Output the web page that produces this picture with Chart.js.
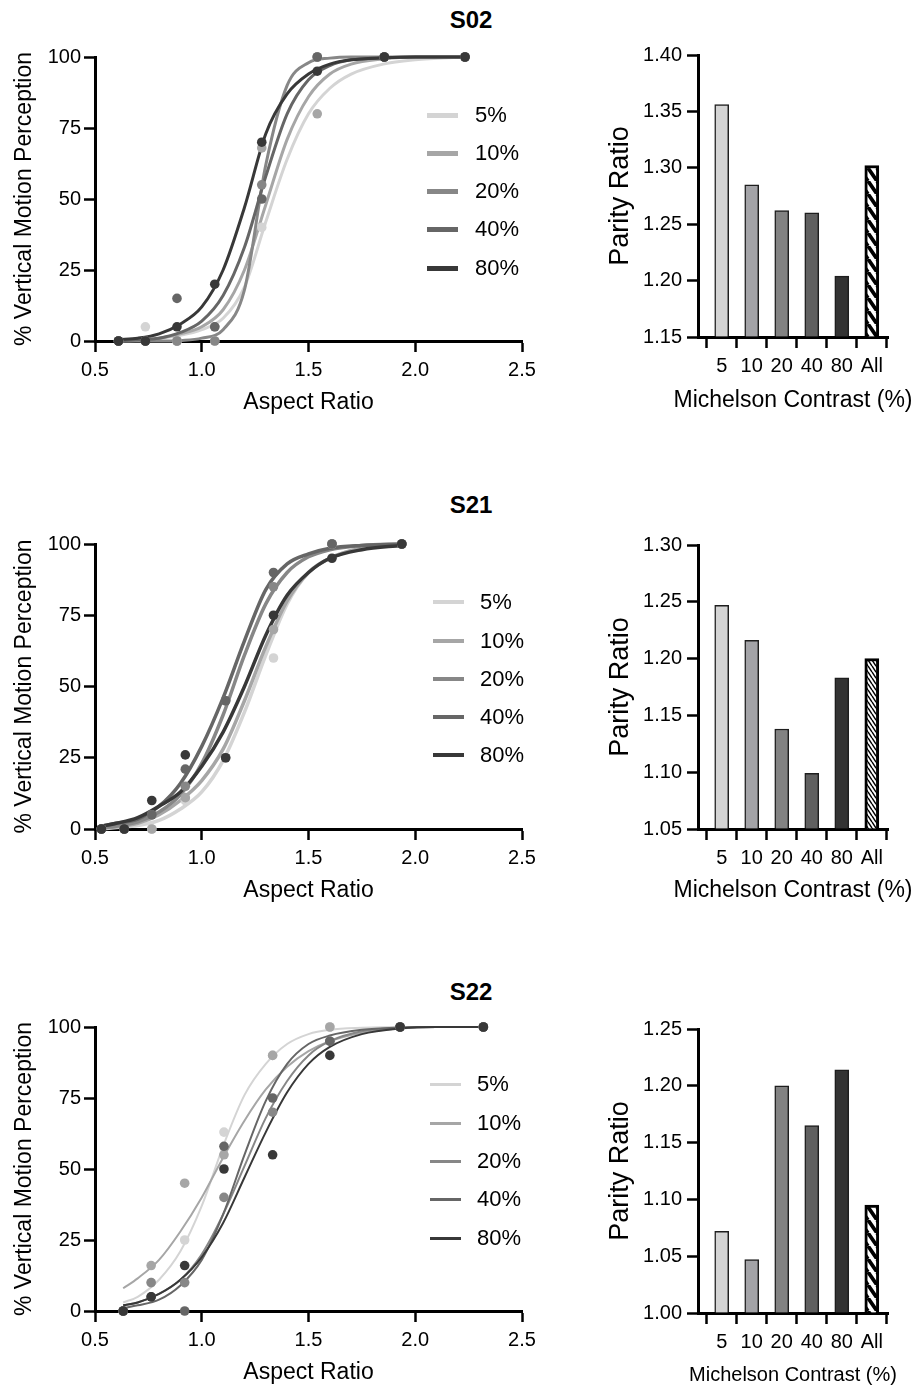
<!DOCTYPE html>
<html lang="en">
<head>
<meta charset="UTF-8" />
<title>Parity Ratio by Michelson Contrast</title>
<script src="https://cdn.jsdelivr.net/npm/chart.js@4.4.0/dist/chart.umd.min.js"></script>
<style>
  html, body { margin: 0; background: #fff; overflow: hidden; }
  body { font-family: "Liberation Sans", Arial, sans-serif; color: #000; }
  #page { position: relative; width: 915px; height: 1387px; }
  canvas { position: absolute; }
  .title { position: absolute; width: 100px; margin-left: -50px; text-align: center;
           font-weight: bold; font-size: 24px; line-height: 28px; }
  .swatch { position: absolute; width: 31px; }
  .ktxt { position: absolute; font-size: 22px; line-height: 26px; white-space: nowrap; }
</style>
</head>
<body>
<div id="page">
  <div class="title" style="left:471px; top:6px;">S02</div>
  <div class="title" style="left:471px; top:491px;">S21</div>
  <div class="title" style="left:471px; top:978px;">S22</div>

  <canvas id="curveS02" width="545" height="381" style="left:0; top:40px;"></canvas>
  <canvas id="curveS21" width="545" height="382" style="left:0; top:527px;"></canvas>
  <canvas id="curveS22" width="545" height="381" style="left:0; top:1010px;"></canvas>

  <canvas id="barS02" width="335" height="379" style="left:580px; top:38px;"></canvas>
  <canvas id="barS21" width="335" height="381" style="left:580px; top:528px;"></canvas>
  <canvas id="barS22" width="335" height="381" style="left:580px; top:1012px;"></canvas>
</div>

<script>
// ---- data ----
const contrastLabels = ["5%", "10%", "20%", "40%", "80%"];
const contrastColors = ["#d4d4d4", "#a6a6a6", "#878787", "#666666", "#383838"];
const barLabels = ["5", "10", "20", "40", "80", "All"];
const barColors = ["#d4d4d4", "#a3a3a7", "#828282", "#606060", "#333333"];

// S02 measured points (rows: 5,10,20,40,80 %)
const s02PtsX = [0.61, 0.736, 0.884, 1.061, 1.281, 1.541, 1.855, 2.233];
const s02Pts = [
  [0, 5, 0, 0, 40, 100, 100, 100],
  [0, 0, 0, 5, 68, 80, 100, 100],
  [0, 0, 0, 0, 55, 100, 100, 100],
  [0, 0, 15, 5, 50, 100, 100, 100],
  [0, 0, 5, 20, 70, 95, 100, 100]
];
// S02 fitted curves
const s02FitX = [0.61, 0.7, 0.8, 0.9, 1.0, 1.1, 1.2, 1.3, 1.4, 1.5, 1.6, 1.7, 1.85, 2.0, 2.233];
const s02Fit = [
  [0, 0.5, 1, 2, 4, 8, 19, 42, 64, 80, 89, 94, 97.5, 99, 100],
  [0, 0.3, 1, 2.5, 5, 11, 25, 48, 71, 86, 94, 97.5, 99.3, 100, 100],
  [0, 0, 0, 0.2, 1, 4, 18, 62, 90, 98, 99.6, 100, 100, 100, 100],
  [0, 0.5, 1, 3, 7, 16, 33, 58, 80, 92, 97, 99, 99.7, 100, 100],
  [0.5, 1, 2.5, 6, 12, 25, 47, 73, 87, 94, 97.5, 99, 99.7, 100, 100]
];

// S21
const s21PtsX = [0.53, 0.637, 0.766, 0.923, 1.112, 1.336, 1.61, 1.937];
const s21Pts = [
  [0, 0, 0, 10, 25, 60, 100, 100],
  [0, 0, 0, 11, 25, 70, 100, 100],
  [0, 0, 5, 15, 45, 85, 100, 100],
  [0, 0, 5, 21, 45, 90, 100, 100],
  [0, 0, 10, 26, 25, 75, 95, 100]
];
const s21FitX = [0.53, 0.6, 0.7, 0.8, 0.9, 1.0, 1.1, 1.2, 1.3, 1.4, 1.5, 1.6, 1.75, 1.937];
const s21Fit = [
  [0, 0.5, 1.2, 3, 7, 13, 24, 41, 61, 79, 90, 95, 98.5, 99.7],
  [0.3, 0.8, 2, 5, 10, 17, 28, 45, 64, 80, 90, 95, 98.5, 99.7],
  [0.5, 1, 2.5, 6, 12, 23, 40, 61, 79, 90, 95.5, 98, 99.5, 100],
  [1, 2, 3.5, 8, 16, 29, 46, 66, 84, 93, 96.5, 98.5, 99.5, 100],
  [1, 2, 4, 8, 13, 22, 34, 50, 68, 82, 90, 95, 98, 99.5]
];

// S22
const s22PtsX = [0.632, 0.763, 0.92, 1.104, 1.332, 1.60, 1.929, 2.319];
const s22Pts = [
  [0, 10, 25, 63, 90, 100, 100, 100],
  [0, 16, 45, 55, 90, 100, 100, 100],
  [0, 10, 10, 40, 70, 95, 100, 100],
  [0, 5, 0, 58, 75, 95, 100, 100],
  [0, 5, 16, 50, 55, 90, 100, 100]
];
const s22FitX = [0.632, 0.7, 0.8, 0.9, 1.0, 1.1, 1.2, 1.3, 1.4, 1.5, 1.6, 1.75, 1.929, 2.1, 2.319];
const s22Fit = [
  [3, 5, 11, 21, 37, 58, 76, 87, 94, 97.5, 99, 99.7, 100, 100, 100],
  [8, 11.5, 18, 28, 40, 54, 67, 78, 86, 91.5, 95, 98, 99.5, 100, 100],
  [2, 3, 6, 11, 20, 34, 51, 68, 81, 90, 95, 98.5, 99.7, 100, 100],
  [1, 2, 4, 9, 18, 34, 55, 74, 87, 94, 97, 99, 99.8, 100, 100],
  [2, 3, 6, 11, 19, 31, 47, 63, 77, 87, 93, 97.5, 99.5, 100, 100]
];

// parity ratios (5, 10, 20, 40, 80, All)
const s02Parity = [1.356, 1.285, 1.262, 1.260, 1.204, 1.302];
const s21Parity = [1.247, 1.216, 1.138, 1.099, 1.183, 1.200];
const s22Parity = [1.072, 1.047, 1.200, 1.165, 1.214, 1.095];

// ---- drawing ----
Chart.defaults.font.family = '"Liberation Sans", Arial, sans-serif';
Chart.defaults.color = "#000";

const axisGrid = { drawOnChartArea: false, drawTicks: true, tickLength: 11, tickWidth: 2.5, tickColor: "#000" };
const axisBorder = { color: "#000", width: 3 };

// x title that may run wider than the plot (Chart.js would squeeze it)
const wideXTitle = {
  id: "wideXTitle",
  afterDraw(chart, args, opts) {
    if (!opts.text) return;
    const ctx = chart.ctx;
    const area = chart.chartArea;
    ctx.save();
    ctx.font = opts.size + 'px "Liberation Sans", Arial, sans-serif';
    ctx.fillStyle = "#000";
    ctx.textAlign = "center";
    ctx.textBaseline = "middle";
    ctx.fillText(opts.text, (area.left + area.right) / 2, area.bottom + opts.offset);
    ctx.restore();
  }
};

function curveChart(id, ptsX, pts, fitX, fit, lineW) {
  const datasets = [];
  // darkest points on top, then curves underneath
  for (let i = 4; i >= 0; i--) {
    datasets.push({
      data: ptsX.map((x, j) => ({ x: x, y: pts[i][j] })),
      showLine: false,
      pointRadius: 4.8,
      pointBackgroundColor: contrastColors[i],
      pointBorderColor: contrastColors[i],
      pointBorderWidth: 0,
      clip: false
    });
  }
  for (let i = 4; i >= 0; i--) {
    datasets.push({
      data: fitX.map((x, j) => ({ x: x, y: fit[i][j] })),
      showLine: true,
      borderColor: contrastColors[i],
      borderWidth: lineW,
      pointRadius: 0,
      cubicInterpolationMode: "monotone",
      clip: false
    });
  }

  new Chart(document.getElementById(id), {
    type: "scatter",
    data: { datasets: datasets },
    options: {
      responsive: false,
      animation: false,
      devicePixelRatio: 1,
      layout: { padding: { top: 17, right: 23, left: 0, bottom: 0 } },
      plugins: { legend: { display: false }, tooltip: { enabled: false } },
      scales: {
        x: {
          type: "linear", min: 0.5, max: 2.5,
          grid: axisGrid, border: axisBorder,
          ticks: { stepSize: 0.5, padding: 6, font: { size: 20 }, callback: (v) => v.toFixed(1) },
          title: { display: true, text: "Aspect Ratio", font: { size: 23 }, padding: { top: 0, bottom: 5 } },
          afterFit: (s) => { s.height = 80; }
        },
        y: {
          min: 0, max: 100,
          grid: axisGrid, border: axisBorder,
          ticks: { stepSize: 25, padding: 3, font: { size: 20 } },
          title: { display: true, text: "% Vertical Motion Perception", font: { size: 23 }, padding: { top: 11, bottom: 0 } },
          afterFit: (s) => { s.width = 95; }
        }
      }
    }
  });
}

function hatch(w, h, lw) {
  const c = document.createElement("canvas");
  c.width = w; c.height = h;
  const g = c.getContext("2d");
  g.fillStyle = "#fff";
  g.fillRect(0, 0, w, h);
  g.strokeStyle = "#000";
  g.lineWidth = lw;
  g.beginPath();
  for (let k = -1; k <= 1; k++) {
    g.moveTo(k * w, 0);
    g.lineTo(k * w + w, h);
  }
  g.stroke();
  return g.createPattern(c, "repeat");
}

function barChart(id, vals, yMin, yMax, pattern, xTitleSize, xTitleOffset) {
  new Chart(document.getElementById(id), {
    type: "bar",
    data: {
      datasets: [{
        data: vals.map((v, i) => ({ x: i, y: v })),
        base: yMin,
        backgroundColor: barColors.concat([pattern]),
        borderColor: ["#1e1e1e", "#1e1e1e", "#1e1e1e", "#1e1e1e", "#1e1e1e", "#000"],
        borderWidth: [1.5, 1.5, 1.5, 1.5, 1.5, 3],
        borderSkipped: "start",
        barThickness: 14
      }]
    },
    options: {
      responsive: false,
      animation: false,
      devicePixelRatio: 1,
      layout: { padding: { top: 17, right: 27, left: 0, bottom: 0 } },
      plugins: {
        legend: { display: false },
        tooltip: { enabled: false },
        wideXTitle: { text: "Michelson Contrast (%)", size: xTitleSize, offset: xTitleOffset }
      },
      scales: {
        x: {
          type: "linear", min: -0.79, max: 5.54, offset: false,
          grid: axisGrid, border: axisBorder,
          ticks: { stepSize: 1, includeBounds: false, padding: 6, font: { size: 20 },
                   callback: (v) => barLabels[v] !== undefined ? barLabels[v] : "" },
          afterFit: (s) => { s.height = 80; }
        },
        y: {
          min: yMin, max: yMax,
          grid: axisGrid, border: axisBorder,
          ticks: { stepSize: 0.05, padding: 5, font: { size: 20 }, callback: (v) => v.toFixed(2) },
          title: { display: true, text: "Parity Ratio", font: { size: 27 }, padding: { top: 24, bottom: 0 } },
          afterFit: (s) => { s.width = 118; }
        }
      }
    },
    plugins: [wideXTitle]
  });
}

curveChart("curveS02", s02PtsX, s02Pts, s02FitX, s02Fit, 3);
curveChart("curveS21", s21PtsX, s21Pts, s21FitX, s21Fit, 3.5);
curveChart("curveS22", s22PtsX, s22Pts, s22FitX, s22Fit, 2);

barChart("barS02", s02Parity, 1.15, 1.40, hatch(9, 13, 3.8), 23, 64);
barChart("barS21", s21Parity, 1.05, 1.30, hatch(4, 6, 1.5), 23, 62);
barChart("barS22", s22Parity, 1.00, 1.25, hatch(9, 13, 3.8), 20, 62);

// in-plot keys
const keyRows = [
  { top: [115, 153, 191, 229, 268], lineX: 427, textX: 475, thick: 5 },
  { top: [602, 641, 679, 717, 755], lineX: 433, textX: 480, thick: 4 },
  { top: [1084, 1123, 1161, 1199, 1238], lineX: 430, textX: 477, thick: 3 }
];
const page = document.getElementById("page");
keyRows.forEach((k) => {
  k.top.forEach((y, i) => {
    const sw = document.createElement("span");
    sw.className = "swatch";
    sw.style.left = k.lineX + "px";
    sw.style.top = (y - k.thick / 2) + "px";
    sw.style.height = k.thick + "px";
    sw.style.background = contrastColors[i];
    page.appendChild(sw);
    const t = document.createElement("span");
    t.className = "ktxt";
    t.style.left = k.textX + "px";
    t.style.top = (y - 13) + "px";
    t.textContent = contrastLabels[i];
    page.appendChild(t);
  });
});
</script>
</body>
</html>
